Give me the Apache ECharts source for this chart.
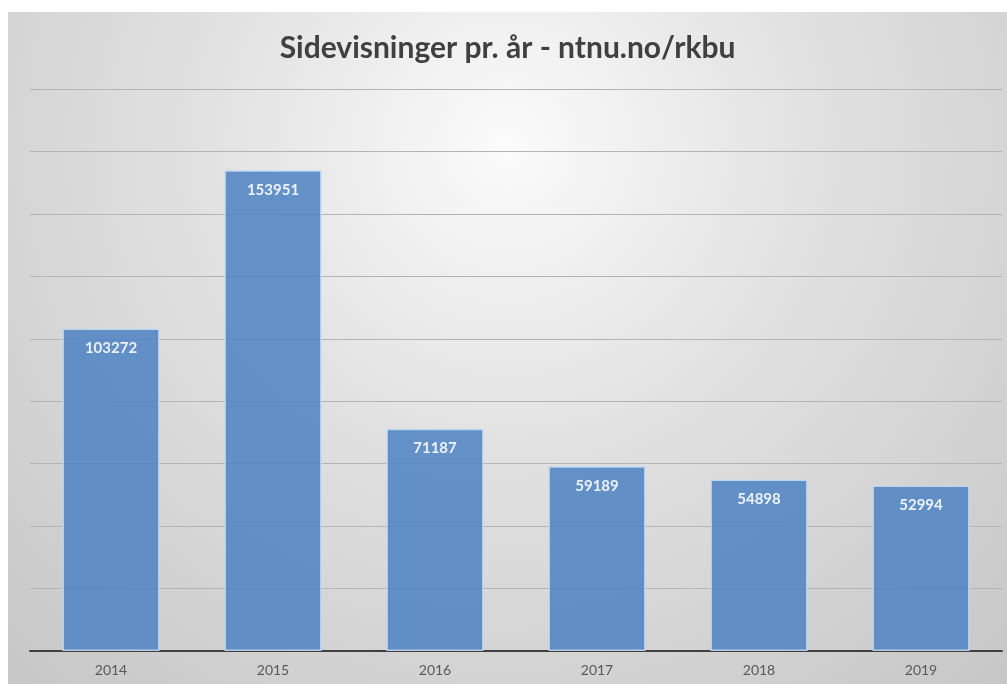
<!DOCTYPE html>
<html>
<head>
<meta charset="utf-8">
<script src="https://cdn.jsdelivr.net/npm/echarts@6/dist/echarts.min.js"></script>
<style>
  html, body { margin: 0; padding: 0; background: #fff; }
  #chart { position: absolute; left: 8px; top: 12px; width: 999px; height: 672px; }
</style>
</head>
<body>
<div id="chart"></div>
<script>
const years = ['2014', '2015', '2016', '2017', '2018', '2019']
const pageViews = [103272, 153951, 71187, 59189, 54898, 52994]
const titleText = 'Sidevisninger pr. år - ntnu.no/rkbu'

const chart = echarts.init(document.getElementById('chart'))

chart.setOption({
  animation: false,
  backgroundColor: {
    type: 'radial', x: 0.5, y: 0.2, r: 1.1,
    colorStops: [
      { offset: 0, color: '#fbfbfb' },
      { offset: 0.4, color: '#e2e2e2' },
      { offset: 1, color: '#c6c6c6' }
    ]
  },
  title: {
    text: titleText,
    left: 'center',
    top: 16,
    textStyle: { fontFamily: 'Lato', fontWeight: 'bold', fontSize: 30, color: '#404040' }
  },
  grid: { left: 22, right: 5, top: 77, bottom: 33 },
  xAxis: {
    type: 'category',
    data: years,
    axisTick: { show: false },
    axisLine: { lineStyle: { color: '#404040', width: 2 } },
    axisLabel: { fontFamily: 'Lato', fontSize: 14, color: '#595959', margin: 12 }
  },
  yAxis: {
    type: 'value',
    min: 0,
    max: 180000,
    interval: 20000,
    axisLabel: { show: false },
    axisLine: { show: false },
    axisTick: { show: false },
    splitLine: { lineStyle: { color: '#b4b4b4', width: 1 } }
  },
  series: [
    {
      type: 'bar',
      data: pageViews,
      barCategoryGap: '40%',
      itemStyle: { color: '#5184c3', opacity: 0.88, borderColor: '#c5daf2', borderWidth: 1.5 },
      label: {
        show: true,
        position: 'insideTop',
        distance: 12,
        fontFamily: 'Lato',
        fontWeight: 'bold',
        fontSize: 15,
        color: '#ffffff'
      }
    }
  ]
})
</script>
</body>
</html>
